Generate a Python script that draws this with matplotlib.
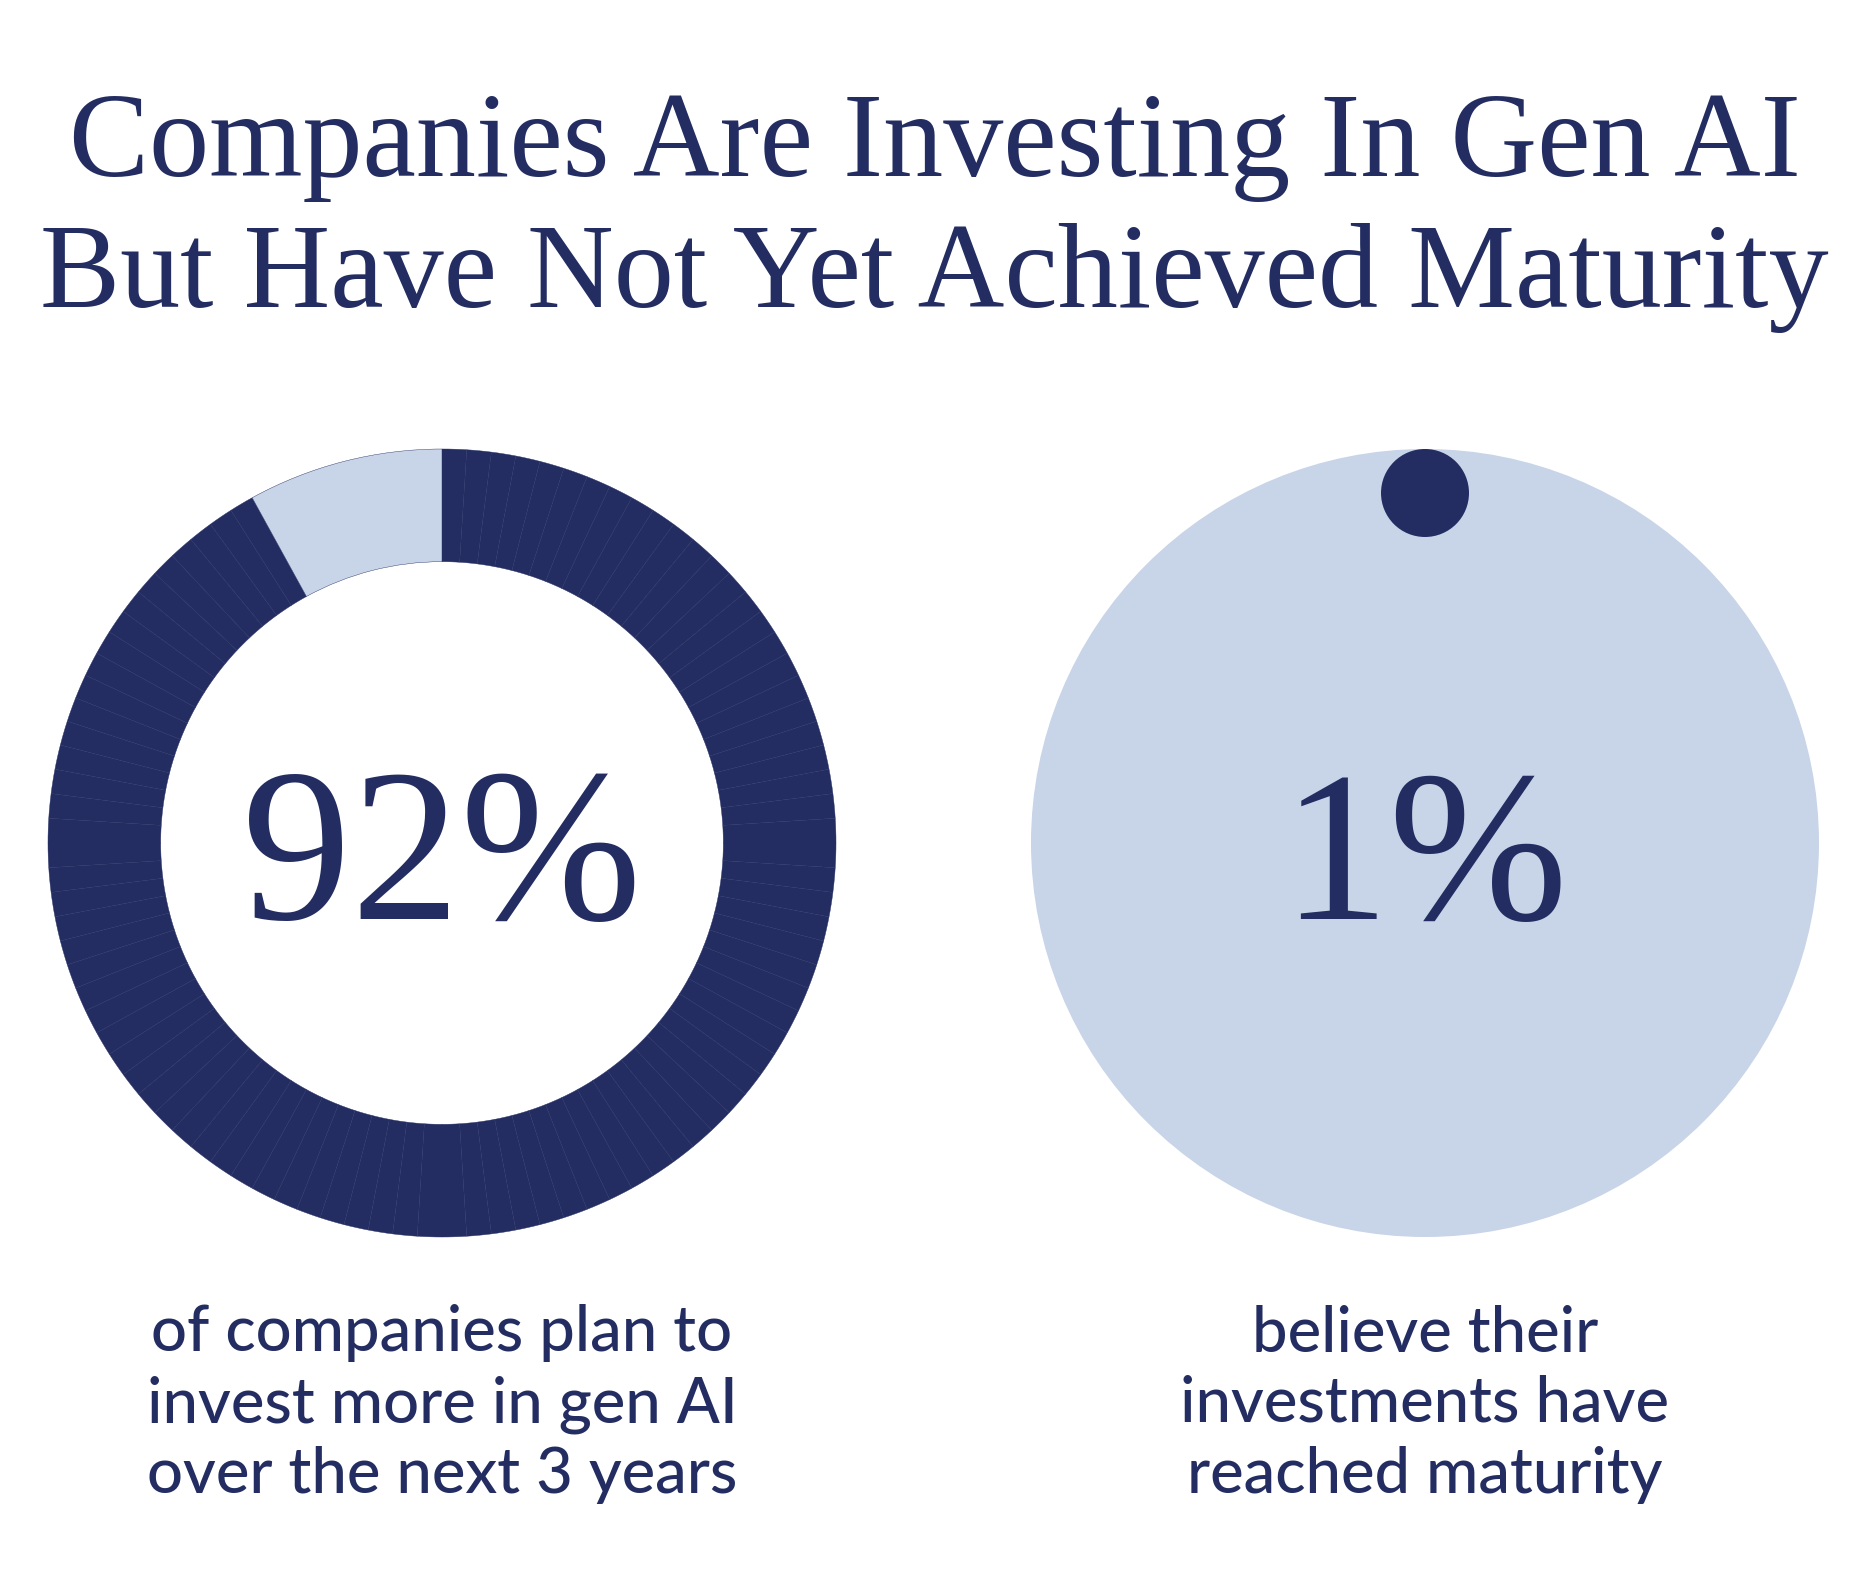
import matplotlib.pyplot as plt
from matplotlib.patches import Circle

W, H = 1867, 1593
navy = "#232d62"
pale = "#c8d4e8"

title_lines = ["Companies Are Investing In Gen AI",
               "But Have Not Yet Achieved Maturity"]

# left donut: share planning to invest more, rest
invest_pct = 92
rest_pct = 100 - invest_pct
# right: share that reached maturity
mature_pct = 1

left_caption = ["of companies plan to", "invest more in gen AI", "over the next 3 years"]
right_caption = ["believe their", "investments have", "reached maturity"]

fig = plt.figure(figsize=(W / 100, H / 100), dpi=100)
ax = fig.add_axes([0, 0, 1, 1])
ax.set_xlim(0, W)
ax.set_ylim(0, H)
ax.set_aspect("equal")
ax.axis("off")

R = 394
cy = H - 843
lx, rx = 442, 1425

# donut, drawn as one slice per point like the original
ax.pie([1] * invest_pct + [rest_pct],
       colors=[navy] * invest_pct + [pale],
       startangle=90, counterclock=False,
       center=(lx, cy), radius=R,
       wedgeprops=dict(width=R * 0.286, linewidth=0.3, edgecolor="#262f64"))
ax.set_xlim(0, W)
ax.set_ylim(0, H)

# right: full pale disc with a small dot at the top
ax.add_patch(Circle((rx, cy), R, color=pale, lw=0))
dot_r = 44
ax.add_patch(Circle((rx, cy + R - dot_r), dot_r, color=navy, lw=0))

serif = "Liberation Serif"
sans = "Lato"

for i, line in enumerate(title_lines):
    ax.text(W / 2 + 1, H - 176 - i * 131, line, ha="center", va="baseline",
            fontsize=86.5, family=serif, color=navy)

ax.text(lx, H - 919, f"{invest_pct}%", ha="center", va="baseline",
        fontsize=157, family=serif, color=navy)
ax.text(rx, H - 919, f"{mature_pct}%", ha="center", va="baseline",
        fontsize=155, family=serif, color=navy)

for i, (a, b) in enumerate(zip(left_caption, right_caption)):
    y = H - 1351 - i * 71
    ax.text(lx, y, a, ha="center", va="baseline", fontsize=45.5, family=sans,
            fontweight="medium", color=navy)
    ax.text(rx, y, b, ha="center", va="baseline", fontsize=45.5, family=sans,
            fontweight="medium", color=navy)

fig.savefig("out.png", dpi=100, facecolor="white")
